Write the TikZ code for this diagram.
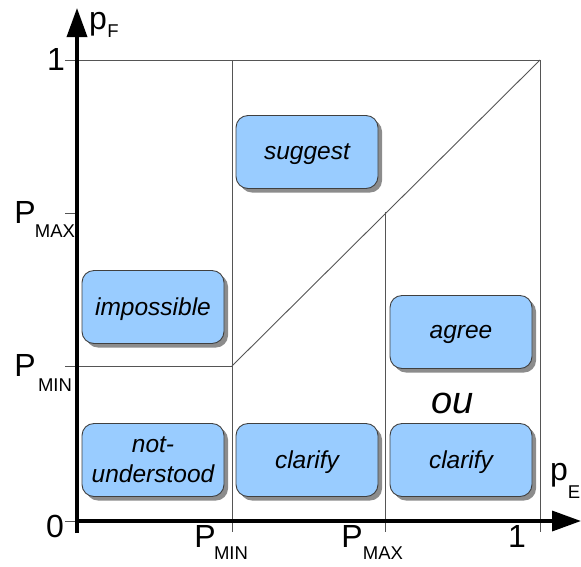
\documentclass[tikz,border=0pt]{standalone}
\usepackage{fontspec}
\setmainfont{Liberation Sans}
\usetikzlibrary{arrows.meta,shadows}
\definecolor{boxfill}{HTML}{99CCFF}
\definecolor{gridc}{HTML}{555555}
\tikzset{
  grid line/.style={draw=gridc, line width=0.9pt},
  axis line/.style={draw=black, line width=3.5pt, -{Triangle[length=29pt,width=20pt]}},
  state/.style={draw=black!75, line width=0.9pt, fill=boxfill, rounded corners=12pt,
     minimum width=142pt, minimum height=73pt, align=center, inner sep=0pt,
     font=\fontsize{24.5}{30}\selectfont\itshape, text depth=0pt,
     drop shadow={shadow xshift=4pt, shadow yshift=-4pt, fill=black!45, opacity=1}},
  lab/.style={font=\fontsize{32}{34}\selectfont, inner sep=0pt, anchor=base},
  sub/.style={font=\fontsize{18.5}{20}\selectfont, inner sep=0pt, anchor=base}
}
\begin{document}
\begin{tikzpicture}[x=1pt,y=-1pt]
\useasboundingbox (0,0) rectangle (581,566);
% grid
\draw[grid line] (65,60) -- (540,60);
\draw[grid line] (65,213) -- (78,213);
\draw[grid line] (65,366) -- (232,366);
\draw[grid line] (65,521) -- (78,521);
\draw[grid line] (232,60) -- (232,532);
\draw[grid line] (385,212) -- (385,532);
\draw[grid line] (540,60) -- (540,532);
\draw[grid line] (232,366) -- (540,60);
% boxes
\node[state] (sug) at (307,152) {suggest};
\node[state] (imp) at (153,307) {impossible};
\node[state] (agr) at (461,332) {agree};
\node[state] (nu) at (153,460) {not-\\understood};
\node[state] (cl1) at (307,460) {clarify};
\node[state] (cl2) at (461,460) {clarify};
\node[font=\fontsize{38}{38}\selectfont\itshape, inner sep=0pt, anchor=base] (ou) at (453,413) {ou};
% axes
\draw[axis line] (77,533) -- (77,8);
\draw[axis line] (77,521) -- (581,521);
% labels
\node[lab] (one) at (56,70) {1};
\node[lab] (zero) at (55,537) {0};
\node[lab] (pmaxl) at (25,223) {P};
\node[sub] (pmaxls) at (55,237) {MAX};
\node[lab] (pminl) at (25,376) {P};
\node[sub] (pminls) at (55,391) {MIN};
\node[lab] (pminb) at (205,547) {P};
\node[sub] (pminbs) at (231,559) {MIN};
\node[lab] (pmaxb) at (352,547) {P};
\node[sub] (pmaxbs) at (383,559) {MAX};
\node[lab] (oneb) at (517,547) {1};
\node[lab] (pe) at (559,480) {p};
\node[sub] (pes) at (574,498) {E};
\node[lab] (pf) at (98,29) {p};
\node[sub] (pfs) at (113,37) {F};
\end{tikzpicture}
\end{document}
